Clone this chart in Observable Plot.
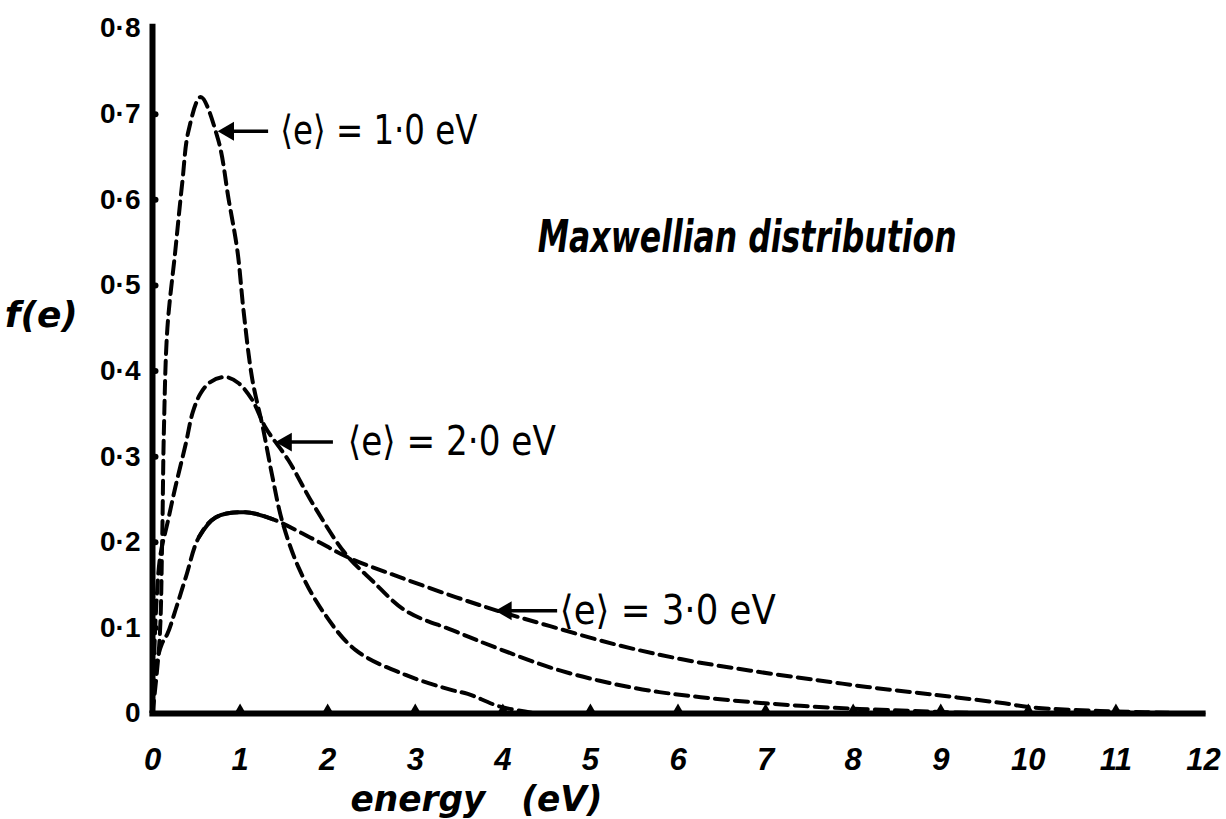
<!DOCTYPE html>
<html>
<head>
<meta charset="utf-8">
<script src="https://cdn.jsdelivr.net/npm/d3@7"></script>
<script src="https://cdn.jsdelivr.net/npm/@observablehq/plot@0.6"></script>
<style>
  html, body { margin: 0; padding: 0; background: #fff; }
  svg { display: block; }
</style>
</head>
<body>
<div id="chart"></div>
<script>
// ---- data ----
const xTicks = [0, 1, 2, 3, 4, 5, 6, 7, 8, 9, 10, 11, 12];
const xTickLabels = ["0", "1", "2", "3", "4", "5", "6", "7", "8", "9", "10", "11", "12"];
const yTicks = [0, 0.1, 0.2, 0.3, 0.4, 0.5, 0.6, 0.7, 0.8];
const yTickLabels = ["0", "0·1", "0·2", "0·3", "0·4", "0·5", "0·6", "0·7", "0·8"];

// <e> = 1.0 eV
const c1x = [0, 0.08, 0.11, 0.13, 0.17, 0.26, 0.34, 0.41, 0.55, 0.75, 0.87, 0.97, 1.04, 1.14, 1.26, 1.37, 1.48, 1.67, 1.94, 2.32, 2.89, 3.43, 3.60, 3.97, 4.4];
const c1y = [0, 0.085, 0.20, 0.33, 0.45, 0.54, 0.62, 0.68, 0.72, 0.67, 0.60, 0.54, 0.47, 0.39, 0.334, 0.276, 0.225, 0.17, 0.12, 0.074, 0.045, 0.027, 0.023, 0.008, 0];
// <e> = 2.0 eV
const c2x = [0, 0.04, 0.09, 0.17, 0.26, 0.38, 0.46, 0.55, 0.66, 0.83, 0.98, 1.14, 1.29, 1.55, 1.83, 2.20, 2.51, 2.89, 3.43, 3.97, 4.66, 5.49, 6.26, 7.40, 8.92, 9.7];
const c2y = [0, 0.12, 0.185, 0.222, 0.264, 0.315, 0.352, 0.374, 0.387, 0.393, 0.386, 0.366, 0.334, 0.296, 0.245, 0.187, 0.155, 0.12, 0.097, 0.075, 0.05, 0.03, 0.019, 0.009, 0.002, 0];
// <e> = 3.0 eV
const c3x = [0, 0.05, 0.11, 0.17, 0.26, 0.38, 0.53, 0.72, 1.06, 1.37, 1.83, 2.24, 2.83, 3.46, 3.97, 4.54, 5.31, 6.06, 6.83, 7.59, 8.16, 8.92, 9.68, 10.06, 10.82, 12.0];
const c3y = [0, 0.06, 0.082, 0.093, 0.12, 0.159, 0.206, 0.229, 0.235, 0.227, 0.204, 0.182, 0.159, 0.136, 0.119, 0.102, 0.080, 0.063, 0.050, 0.039, 0.031, 0.022, 0.0125, 0.007, 0.003, 0];

// annotations (data coordinates)
const noteText = ["⟨e⟩ = 1·0 eV", "⟨e⟩ = 2·0 eV", "⟨e⟩ = 3·0 eV"];
const noteX = [1.46, 2.23, 4.65];
const noteY = [0.68, 0.317, 0.12];
const arrowFromX = [1.32, 2.06, 4.62];
const arrowToX = [0.80, 1.46, 3.97];

const titleText = "Maxwellian distribution";
const yLabelText = "f(e)";
const xLabelText = "energy\u00a0\u00a0\u00a0(eV)";

// ---- build tables ----
const toPts = (xs, ys) => xs.map((x, i) => ({x, y: ys[i]}));
const curve1 = toPts(c1x, c1y);
const curve2 = toPts(c2x, c2y);
const curve3 = toPts(c3x, c3y);
const curve3solid = curve3.filter(d => d.x >= 0.5 && d.x <= 1.4);
const notes = noteText.map((t, i) => ({t, x: noteX[i], y: noteY[i], x1: arrowFromX[i], x2: arrowToX[i]}));

// ---- styling ----
const hand = "'DejaVu Sans', sans-serif";
const dash = "13,7";
const lw = 4;
const fitWidths = new Map([
  [noteText[0], 197], [noteText[1], 208], [noteText[2], 216],
  [titleText, 419], [xLabelText, 252]
]);

const chart = Plot.plot({
  width: 1226,
  height: 819,
  marginLeft: 152,
  marginRight: 23,
  marginTop: 28,
  marginBottom: 106,
  style: {background: "#fff", color: "#000"},
  x: {domain: [0, 12]},
  y: {domain: [0, 0.8]},
  marks: [
    Plot.axisY(yTicks, {tickSize: 0, tickPadding: 12, tickFormat: (d, i) => yTickLabels[i],
      fontSize: 28, fontWeight: "bold", fontFamily: "'Liberation Sans', sans-serif", label: null}),
    Plot.axisX(xTicks, {tickSize: 0, tickPadding: 34, tickFormat: (d, i) => xTickLabels[i],
      fontSize: 31, fontWeight: "bold", fontStyle: "italic", fontFamily: "'Liberation Sans', sans-serif", label: null}),
    Plot.ruleX([0], {y1: 0, y2: 0.805, stroke: "black", strokeWidth: 6}),
    Plot.ruleY([0], {x1: -0.03, x2: 12.03, stroke: "black", strokeWidth: 6}),
    Plot.dot(xTicks.slice(1, 12), {x: d => d, y: 0, symbol: "triangle", r: 4.5, fill: "black", dy: -3}),
    Plot.dot(yTicks.slice(1, 8), {x: 0, y: d => d, r: 3, fill: "black", dx: 3}),
    Plot.line(curve1, {x: "x", y: "y", curve: "catmull-rom", stroke: "black", strokeWidth: lw, strokeDasharray: dash}),
    Plot.line(curve2, {x: "x", y: "y", curve: "catmull-rom", stroke: "black", strokeWidth: lw, strokeDasharray: dash}),
    Plot.line(curve3, {x: "x", y: "y", curve: "catmull-rom", stroke: "black", strokeWidth: lw, strokeDasharray: dash}),
    Plot.line(curve3solid, {x: "x", y: "y", curve: "catmull-rom", stroke: "black", strokeWidth: lw}),
    Plot.link(notes, {x1: "x1", y1: "y", x2: "x2", y2: "y", stroke: "black", strokeWidth: 3.5}),
    Plot.dot(notes, {x: "x2", y: "y", symbol: "triangle", rotate: -90, r: 7, fill: "black", dx: 6}),
    Plot.text(notes, {x: "x", y: "y", text: "t", textAnchor: "start", fontSize: 40, fontFamily: hand, fill: "black"}),
    Plot.text([titleText], {x: 6.79, y: 0.556, text: d => d, textAnchor: "middle", fontSize: 44, fontWeight: "bold", fontStyle: "italic", fontFamily: hand, fill: "black"}),
    Plot.text([yLabelText], {x: -1.27, y: 0.465, text: d => d, textAnchor: "middle", fontSize: 36, fontWeight: "bold", fontStyle: "italic", fontFamily: hand, fill: "black"}),
    Plot.text([xLabelText], {x: 3.70, y: -0.1, text: d => d, textAnchor: "middle", fontSize: 36, fontWeight: "bold", fontStyle: "italic", fontFamily: hand, fill: "black"})
  ]
});

// squeeze the hand-lettered texts to the widths they have in the picture
d3.select(chart).selectAll("text").each(function () {
  const w = fitWidths.get(this.textContent);
  if (w) {
    this.setAttribute("textLength", w);
    this.setAttribute("lengthAdjust", "spacingAndGlyphs");
  }
});

document.getElementById("chart").appendChild(chart);
</script>
</body>
</html>
